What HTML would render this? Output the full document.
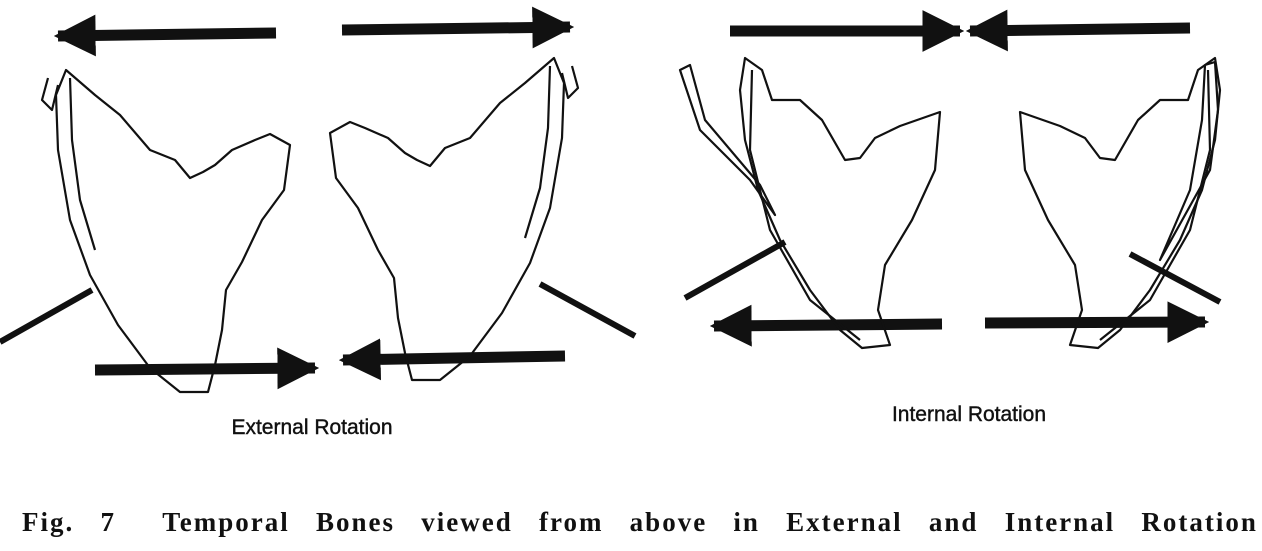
<!DOCTYPE html>
<html><head><meta charset="utf-8"><style>
html,body{margin:0;padding:0;background:#fff;width:1262px;height:551px;overflow:hidden;position:relative}
svg{display:block;position:absolute;left:0;top:0}
.cap{position:absolute;left:22px;top:506px;width:1236px;display:flex;justify-content:space-between;font-family:"Liberation Serif",serif;font-weight:bold;font-size:27px;letter-spacing:2px;color:#111;line-height:32px}
</style></head><body>
<svg width="1262" height="551" viewBox="0 0 1262 551">
<defs>
<marker id="h" viewBox="0 0 10 10" refX="9" refY="5" markerWidth="3.8" markerHeight="4" orient="auto" markerUnits="strokeWidth"><path d="M0,0 L10,5 L0,10 z" fill="#111"/></marker>
</defs>
<g stroke="#111" stroke-width="11" fill="none">
<line x1="276" y1="33" x2="58" y2="36" marker-end="url(#h)"/>
<line x1="342" y1="30" x2="570" y2="27" marker-end="url(#h)"/>
<line x1="95" y1="370" x2="315" y2="368" marker-end="url(#h)"/>
<line x1="565" y1="356" x2="343" y2="360" marker-end="url(#h)"/>
<line x1="730" y1="31" x2="960" y2="31" marker-end="url(#h)"/>
<line x1="1190" y1="28" x2="970" y2="31" marker-end="url(#h)"/>
<line x1="942" y1="324" x2="714" y2="326" marker-end="url(#h)"/>
<line x1="985" y1="323" x2="1205" y2="322" marker-end="url(#h)"/>
</g>
<g stroke="#111" stroke-width="6">
<line x1="0" y1="342" x2="92" y2="290"/>
<line x1="540" y1="284" x2="635" y2="336"/>
<line x1="685" y1="298" x2="785" y2="242"/>
<line x1="1130" y1="254" x2="1220" y2="302"/>
</g>
<g stroke="#111" stroke-width="2.2" fill="none" stroke-linejoin="round">
<g>
<path d="M66,70 L95,95 L120,115 L150,150 L175,160 L190,178 L203,172 L215,165 L232,150 L255,140 L270,134 L290,145 L284,190 L262,220 L242,262 L226,290 L222,330 L215,365 L208,392 L180,392 L150,368 L118,325 L90,275 L70,220 L58,150 L56,95 Z"/>
<path d="M70,78 L72,140 L80,200 L95,250"/>
<path d="M48,78 L42,100 L52,110 L58,85"/>
</g>
<g transform="translate(620,-12) scale(-1,1)">
<path d="M66,70 L95,95 L120,115 L150,150 L175,160 L190,178 L203,172 L215,165 L232,150 L255,140 L270,134 L290,145 L284,190 L262,220 L242,262 L226,290 L222,330 L215,365 L208,392 L180,392 L150,368 L118,325 L90,275 L70,220 L58,150 L56,95 Z"/>
<path d="M70,78 L72,140 L80,200 L95,250"/>
<path d="M48,78 L42,100 L52,110 L58,85"/>
</g>
<g>
<path d="M745,58 L762,70 L772,100 L800,100 L822,120 L845,160 L860,158 L875,138 L900,126 L940,112 L935,170 L912,220 L885,265 L878,310 L890,345 L862,348 L840,330 L810,290 L780,240 L758,190 L745,140 L740,90 Z"/>
<path d="M680,70 L690,65 L705,120 L760,185 L775,215 L750,180 L700,130 Z"/>
<path d="M752,70 L750,150 L770,230 L810,300 L860,340"/>
</g>
<g transform="translate(1960,0) scale(-1,1)">
<path d="M745,58 L762,70 L772,100 L800,100 L822,120 L845,160 L860,158 L875,138 L900,126 L940,112 L935,170 L912,220 L885,265 L878,310 L890,345 L862,348 L840,330 L810,290 L780,240 L758,190 L745,140 L740,90 Z"/>
<path d="M745,62 L755,65 L758,120 L770,190 L800,260 L750,170 L742,110 Z"/>
<path d="M752,70 L750,150 L770,230 L810,300 L860,340"/>
</g>
</g>
<text x="312" y="434" text-anchor="middle" font-family="Liberation Sans, sans-serif" font-size="21" fill="#111" stroke="#111" stroke-width="0.4">External Rotation</text>
<text x="969" y="421" text-anchor="middle" font-family="Liberation Sans, sans-serif" font-size="21" fill="#111" stroke="#111" stroke-width="0.4">Internal Rotation</text>
</svg>
<div class="cap">
<span>Fig.</span><span>7</span><span style="margin-left:20px">Temporal</span><span>Bones</span><span>viewed</span><span>from</span><span>above</span><span>in</span><span>External</span><span>and</span><span>Internal</span><span>Rotation</span>
</div>
</body></html>
